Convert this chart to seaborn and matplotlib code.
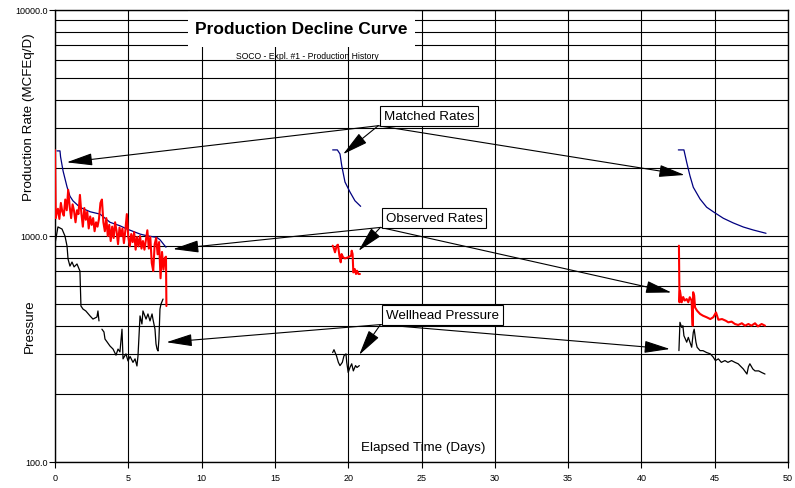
import numpy as np
import pandas as pd
import matplotlib
matplotlib.use("Agg")
import matplotlib.pyplot as plt
from matplotlib.patches import Rectangle
from matplotlib.ticker import FixedLocator, NullFormatter, FuncFormatter
import seaborn as sns

# ---------------- data ----------------
# Observed rates (red)
red1_days = [0.0, 0.05, 0.1, 0.2, 0.3, 0.4, 0.5, 0.6, 0.7, 0.8,
             0.9, 1.0, 1.1, 1.2, 1.3, 1.4, 1.5, 1.6, 1.7, 1.8,
             1.9, 2.0, 2.1, 2.2, 2.3, 2.4, 2.5, 2.6, 2.7, 2.8,
             2.9, 3.0, 3.1, 3.2, 3.3, 3.4, 3.5, 3.6, 3.7, 3.8,
             3.9, 4.0, 4.1, 4.2, 4.3, 4.4, 4.5, 4.6, 4.7, 4.8,
             4.9, 5.0, 5.1, 5.2, 5.3, 5.4, 5.5, 5.6, 5.7, 5.8,
             5.9, 6.0, 6.1, 6.2, 6.3, 6.4, 6.5, 6.6, 6.7, 6.8,
             6.9, 7.0, 7.1, 7.2, 7.3, 7.4, 7.5, 7.57, 7.6]
red1_vals = [2400, 1200, 1250, 1320, 1190, 1400, 1280, 1230, 1450, 1300,
             1600, 1350, 1200, 1380, 1290, 1150, 1300, 1250, 1520, 1260,
             1100, 1330, 1180, 1280, 1080, 1220, 1120, 1200, 1050, 1150,
             1100, 1190, 1400, 1450, 1150, 1050, 1200, 1000, 1120, 950,
             1100, 980, 1150, 1050, 920, 1090, 1000, 1080, 930, 1060,
             1250, 990, 900, 1020, 940, 1040, 870, 990, 900, 1000,
             880, 950, 870, 960, 1060, 880, 990, 760, 700, 920,
             980, 830, 940, 650, 850, 710, 800, 810, 490]

red2_days = [18.94, 19.0, 19.1, 19.22, 19.3, 19.4, 19.49, 19.55, 19.65, 19.78,
             20.0, 20.2, 20.24, 20.3, 20.35, 20.45, 20.53, 20.6, 20.7, 20.8]
red2_vals = [906, 891, 847, 906, 915, 819, 765, 832, 805, 796,
             805, 819, 861, 832, 690, 714, 679, 702, 679, 679]

red3_days = [42.56, 42.6, 42.63, 42.75, 42.85, 42.95, 43.09, 43.2, 43.3, 43.42,
             43.5, 43.53, 43.6, 43.66, 43.8, 44.0, 44.2, 44.45, 44.7, 44.9,
             45.09, 45.25, 45.5, 45.75, 45.93, 46.15, 46.38, 46.6, 46.85, 47.07,
             47.3, 47.5, 47.75, 47.95, 48.2, 48.43]
red3_vals = [906, 509, 573, 509, 537, 518, 526, 509, 536, 518,
             401, 564, 545, 483, 467, 452, 444, 437, 429, 437,
             459, 426, 429, 422, 415, 418, 408, 404, 411, 401,
             408, 401, 411, 398, 408, 401]

# Matched rates (blue)
blue1_days = [0.14, 0.34, 0.38, 0.55, 0.82, 1.02, 1.23, 1.7, 2.4, 3.07,
              3.75, 4.43, 4.89, 5.8, 6.25, 6.94, 7.16, 7.39, 7.57]
blue1_vals = [2380, 2380, 2240, 1940, 1650, 1500, 1430, 1340, 1280, 1250,
              1150, 1110, 1075, 1020, 1003, 986, 963, 922, 892]

blue2_days = [18.94, 19.26, 19.44, 19.56, 19.78, 20.12, 20.46, 20.85]
blue2_vals = [2404, 2404, 2307, 2046, 1734, 1566, 1432, 1353]

blue3_days = [42.52, 42.9, 43.09, 43.31, 43.54, 44.0, 44.45, 44.95, 45.59,
              46.27, 46.95, 47.63, 48.5]
blue3_vals = [2404, 2404, 2118, 1849, 1643, 1458, 1341, 1274, 1198,
              1142, 1096, 1063, 1028]

# Wellhead pressure (black)
blk1a_days = [0.0, 0.2, 0.48, 0.68, 0.82, 0.89, 1.02, 1.16, 1.3, 1.5,
              1.7, 1.77, 1.91, 2.1, 2.39, 2.59, 2.86, 2.93, 3.0]
blk1a_vals = [922, 1097, 1073, 1000, 903, 791, 736, 767, 730, 752,
              700, 490, 475, 466, 443, 429, 438, 466, 421]

blk1b_days = [3.2, 3.34, 3.41, 3.55, 3.75, 3.96, 4.16, 4.3, 4.43, 4.57,
              4.64, 4.84, 4.98, 5.12, 5.32, 5.46, 5.59, 5.66, 5.8, 5.93,
              6.0, 6.21, 6.34, 6.48, 6.62, 6.68, 6.82, 6.89, 6.96, 7.03,
              7.09, 7.16, 7.23, 7.37]
blk1b_vals = [387, 376, 350, 340, 326, 316, 297, 316, 307, 387,
              286, 301, 280, 293, 276, 286, 266, 294, 443, 408,
              466, 429, 452, 421, 452, 429, 387, 333, 316, 310,
              350, 475, 500, 526]

blk2_days = [18.94, 19.03, 19.2, 19.33, 19.44, 19.6, 19.71, 19.85, 19.9, 20.0,
             20.12, 20.24, 20.35, 20.5, 20.6, 20.76]
blk2_vals = [305, 314, 295, 276, 267, 276, 295, 301, 276, 249,
             262, 272, 253, 267, 262, 267]

blk3_days = [42.56, 42.63, 42.75, 42.83, 42.9, 43.0, 43.09, 43.2, 43.31, 43.43,
             43.54, 43.6, 43.72, 43.8, 44.0, 44.2, 44.45, 44.7, 44.9, 45.05,
             45.25, 45.45, 45.7, 45.9, 46.15, 46.38, 46.6, 46.95, 47.2, 47.3,
             47.4, 47.6, 47.75, 48.0, 48.2, 48.43]
blk3_vals = [311, 415, 394, 401, 362, 350, 339, 356, 339, 322,
             375, 387, 339, 322, 311, 311, 305, 301, 291, 281,
             286, 276, 281, 276, 281, 276, 272, 258, 245, 264,
             272, 258, 253, 253, 249, 245]

x_ticks = [0, 5, 10, 15, 20, 25, 30, 35, 40, 45, 50]
y_major = [100, 1000, 10000]

title = "Production Decline Curve"
subtitle = "SOCO - Expl. #1 - Production History"
callouts = ["Matched Rates", "Observed Rates", "Wellhead Pressure"]


def frame(days, vals, seg):
    return pd.DataFrame({"day": days, "value": vals, "seg": seg})


observed = pd.concat([frame(red1_days, red1_vals, "a"),
                      frame(red2_days, red2_vals, "b"),
                      frame(red3_days, red3_vals, "c")], ignore_index=True)
matched = pd.concat([frame(blue1_days, blue1_vals, "a"),
                     frame(blue2_days, blue2_vals, "b"),
                     frame(blue3_days, blue3_vals, "c")], ignore_index=True)
pressure = pd.concat([frame(blk1a_days, blk1a_vals, "a"),
                      frame(blk1b_days, blk1b_vals, "b"),
                      frame(blk2_days, blk2_vals, "c"),
                      frame(blk3_days, blk3_vals, "d")], ignore_index=True)

# ---------------- styling ----------------
sns.set_style("white")
plt.rcParams["font.family"] = ["Liberation Sans", "DejaVu Sans"]
plt.rcParams["text.color"] = "black"
plt.rcParams["axes.labelcolor"] = "black"
plt.rcParams["xtick.color"] = "black"
plt.rcParams["ytick.color"] = "black"

fig = plt.figure(figsize=(7.95, 4.89), dpi=100)
ax = fig.add_axes([55 / 795, 26 / 489, 733 / 795, 452 / 489])
ax.set_yscale("log")
ax.set_xlim(0, 50)
ax.set_ylim(100, 10000)

ax.set_axisbelow(True)
ax.xaxis.set_major_locator(FixedLocator(x_ticks))
ax.yaxis.set_major_locator(FixedLocator(y_major))
ax.yaxis.set_major_formatter(FuncFormatter(lambda v, _: f"{v:.1f}"))
ax.yaxis.set_minor_formatter(NullFormatter())
ax.grid(True, axis="x", which="major", color="black", lw=0.8)
ax.grid(True, axis="y", which="both", color="black", lw=0.8)
ax.tick_params(which="major", left=True, bottom=True, length=4, width=0.8,
               direction="out", labelsize=6.5, colors="black")
ax.tick_params(axis="y", which="major", pad=1)
ax.tick_params(axis="x", which="major", pad=4)
ax.tick_params(which="minor", left=False, length=0)
for sp in ax.spines.values():
    sp.set_color("black")
    sp.set_linewidth(1.0)

sns.lineplot(data=matched, x="day", y="value", units="seg", estimator=None,
             sort=False, color="#000080", lw=0.9, ax=ax, zorder=3)
sns.lineplot(data=observed, x="day", y="value", units="seg", estimator=None,
             sort=False, color="#FF0000", lw=1.5, ax=ax, zorder=3)
sns.lineplot(data=pressure, x="day", y="value", units="seg", estimator=None,
             sort=False, color="black", lw=0.9, ax=ax, zorder=3)
ax.set_xlabel("")
ax.set_ylabel("")

# title block
ax.add_patch(Rectangle((0.181, 0.918), 0.310, 0.079, transform=ax.transAxes,
                       fc="white", ec="none", zorder=1.5))
ax.text(0.336, 0.958, title, transform=ax.transAxes, ha="center", va="center",
        fontsize=12.5, fontweight="bold", color="black", zorder=5)
ax.text(0.344, 0.899, subtitle, transform=ax.transAxes, ha="center",
        va="center", fontsize=6.2, color="black", zorder=5)

# axis texts
ax.text(0.503, 0.033, "Elapsed Time (Days)", transform=ax.transAxes,
        ha="center", va="center", fontsize=9.6, color="black", zorder=5)
fig.text(29 / 795, 1 - 117 / 489, "Production Rate (MCFEq/D)", rotation=90,
         ha="center", va="center", fontsize=9.6, color="black")
fig.text(30 / 795, 1 - 326 / 489, "Pressure", rotation=90,
         ha="center", va="center", fontsize=9.6, color="black")

# callouts with arrows
box_centers = [(0.510, 0.766), (0.517, 0.540), (0.528, 0.326)]
origins = [(0.441, 0.744), (0.444, 0.519), (0.444, 0.304)]
tips = [[(0.016, 0.663), (0.393, 0.681), (0.859, 0.635)],
        [(0.161, 0.471), (0.414, 0.467), (0.841, 0.375)],
        [(0.152, 0.265), (0.415, 0.237), (0.839, 0.250)]]
for label, c, o, tl in zip(callouts, box_centers, origins, tips):
    ax.text(c[0], c[1], label, transform=ax.transAxes, ha="center",
            va="center", fontsize=9.6, color="black", zorder=6,
            bbox=dict(boxstyle="square,pad=0.3", fc="white", ec="black",
                      lw=0.8))
    for t in tl:
        ax.annotate("", xy=t, xycoords="axes fraction", xytext=o,
                    textcoords="axes fraction", zorder=5,
                    arrowprops=dict(arrowstyle="-|>,head_length=1.6,head_width=0.38",
                                    color="black", lw=0.8, shrinkA=0,
                                    shrinkB=0, mutation_scale=10))

fig.savefig("out.png", dpi=100, facecolor="white")
